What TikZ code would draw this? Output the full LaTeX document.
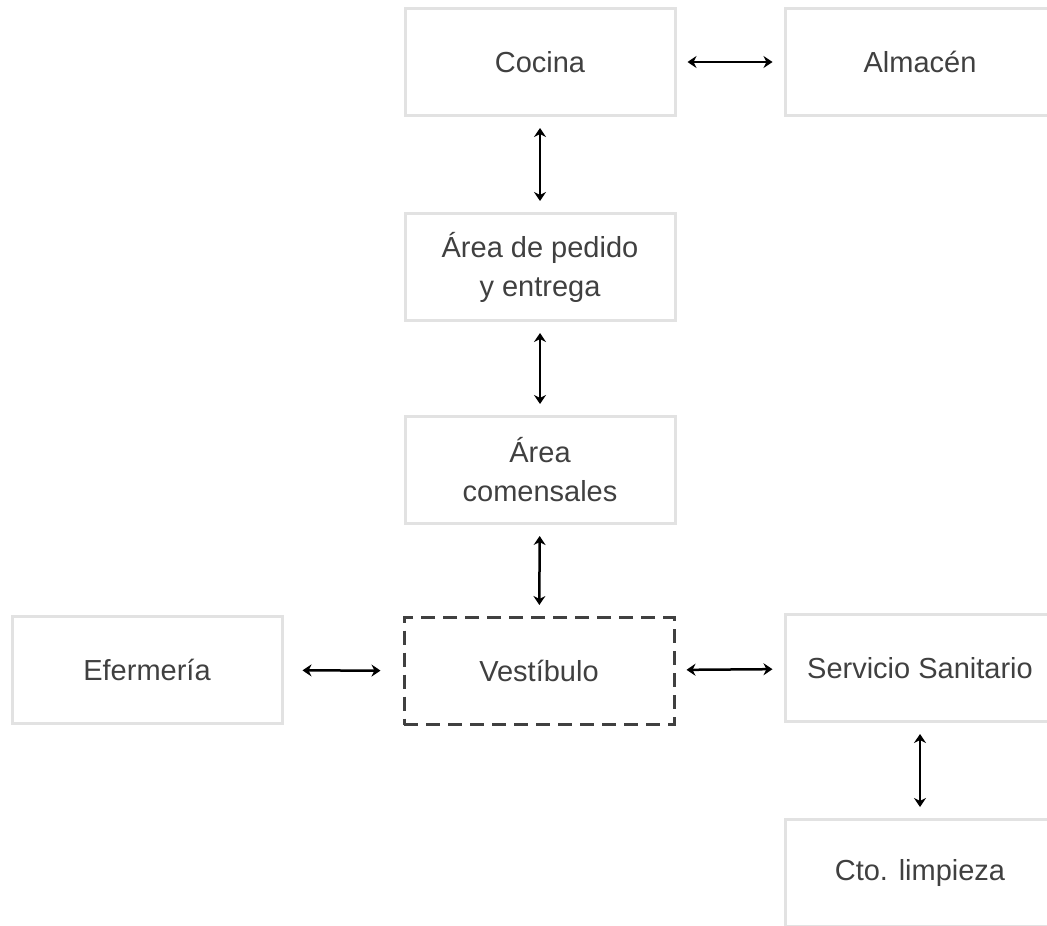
\documentclass[tikz,border=0pt]{standalone}
\usepackage{fontspec}
\setmainfont{Liberation Sans}
\usepackage{xcolor}
\usetikzlibrary{arrows.meta}

\definecolor{boxgray}{RGB}{226,226,226}
\definecolor{textgray}{RGB}{64,64,64}

\begin{document}
\begin{tikzpicture}[
  x=1pt, y=-1pt,
  area/.style={
    draw=boxgray,
    line width=3pt,
    minimum width=270pt,
    minimum height=107pt,
    inner sep=0pt,
    align=center,
    text=textgray,
    font=\fontsize{29}{39}\selectfont,
  },
  hall/.style={
    area,
    draw=textgray,
    dash pattern=on 14pt off 8pt,
  },
  link/.style={
    {Stealth[length=9pt, width=12pt]}-{Stealth[length=9pt, width=12pt]},
    line width=2.5pt,
    shorten >=11pt,
    shorten <=11pt,
  },
]
  \useasboundingbox (0, 0) rectangle (1047, 926);

  \node[area] (cocina) at (540, 62) {Cocina};
  \node[area] (almacen) at (920, 62) {Almacén};
  \node[area] (pedido) at (540, 267) {Área de pedido\\y entrega};
  \node[area] (comensales) at (540, 470) {Área\\comensales};
  \node[hall] (vestibulo) at (539, 671) {Vestíbulo};
  \node[area] (efermeria) at (147, 670) {Efermería};
  \node[area] (sanitario) at (920, 668) {Servicio Sanitario};
  \node[area] (limpieza) at (920, 873) {Cto. limpieza};

  \draw[link] (cocina) -- (almacen);
  \draw[link] (cocina) -- (pedido);
  \draw[link] (pedido) -- (comensales);
  \draw[link] (comensales) -- (vestibulo);
  \draw[link, shorten <=19pt, shorten >=22pt] (efermeria) -- (vestibulo);
  \draw[link] (vestibulo) -- (sanitario);
  \draw[link] (sanitario) -- (limpieza);
\end{tikzpicture}
\end{document}
